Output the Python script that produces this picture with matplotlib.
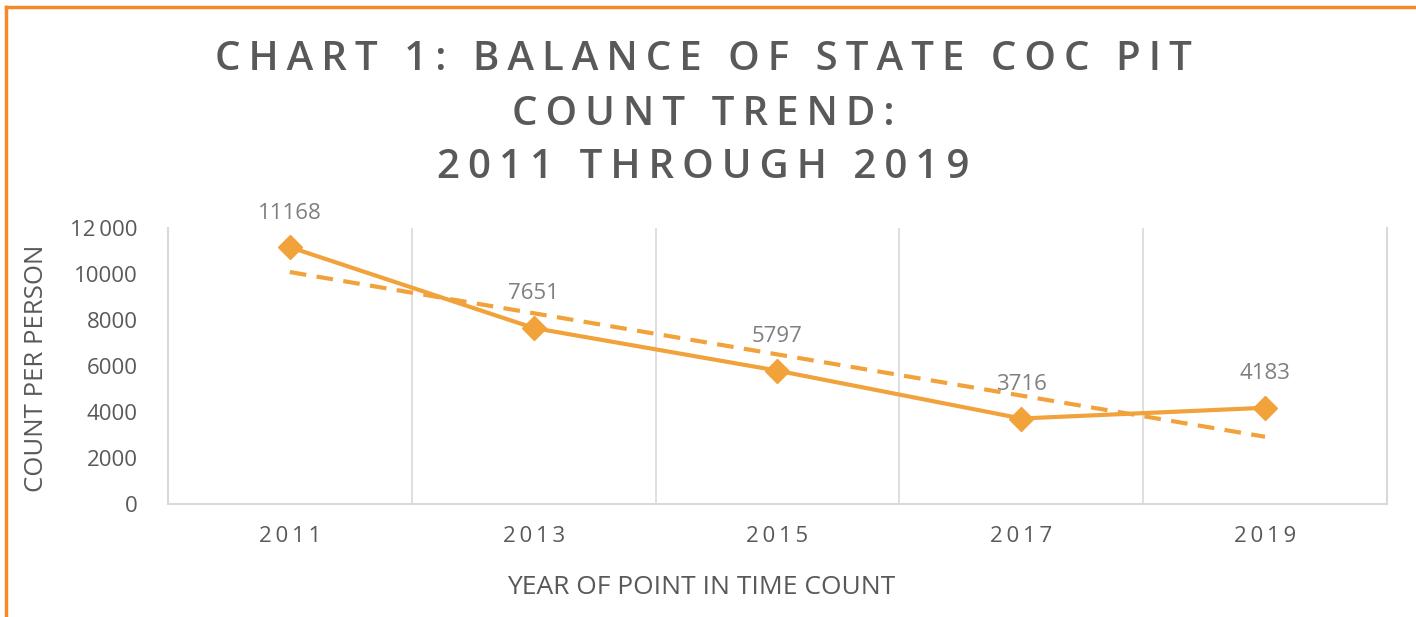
import numpy as np
import matplotlib
matplotlib.use("Agg")
import matplotlib.pyplot as plt
from matplotlib.lines import Line2D

years = ["2011", "2013", "2015", "2017", "2019"]
counts = [11168, 7651, 5797, 3716, 4183]
y_ticks = [0, 2000, 4000, 6000, 8000, 10000, 12000]
y_tick_labels = ["0", "2000", "4000", "6000", "8000", "10000", "12\u2009000"]

title_lines = ["CHART 1: BALANCE OF STATE COC PIT", "COUNT TREND:", "2011 THROUGH 2019"]

orange = "#F2A23A"
grey_txt = "#595959"
grid_col = "#D9D9D9"


def spaced(s, sep="\u2009"):
    # fake letter spacing with thin spaces
    return sep.join(s)


plt.rcParams['font.family'] = ['Open Sans', 'DejaVu Sans']

fig = plt.figure(figsize=(14.16, 6.17), dpi=100)
ax = fig.add_axes([0.1186, 0.1832, 0.8609, 0.4473])

x = np.arange(len(years))
ax.plot(x, counts, color=orange, lw=3, marker="D", markersize=12, zorder=3)

# linear trendline
k, b = np.polyfit(x, counts, 1)
ax.plot(x, k * x + b, color=orange, lw=3, ls=(0, (4, 2.5)), zorder=2)

for xi, v in zip(x, counts):
    ax.annotate(str(v), (xi, v), xytext=(0, 17), textcoords="offset points",
                ha="center", va="bottom", fontsize=16, color="#7F7F7F")

ax.set_xlim(-0.5, len(years) - 0.5)
ax.set_ylim(0, 12000)
ax.set_xticks(x)
ax.set_xticklabels([spaced(y) for y in years], fontsize=16, color=grey_txt)
ax.set_xticks(np.arange(0.5, len(years) - 0.5), minor=True)
ax.set_yticks(y_ticks)
ax.set_yticklabels(y_tick_labels, fontsize=16, color=grey_txt)
ax.tick_params(which="both", length=0)
ax.tick_params(axis="x", pad=16)
ax.tick_params(axis="y", pad=22)
ax.grid(which="minor", axis="x", color=grid_col, lw=1.2)

for side in ["left", "right", "bottom"]:
    ax.spines[side].set_color(grid_col)
    ax.spines[side].set_linewidth(1.5)
ax.spines["top"].set_visible(False)

fig.text(701 / 1416, 1 - 588 / 617, "YEAR OF POINT IN TIME COUNT", ha="center",
         va="center", fontsize=19, color=grey_txt)
fig.text(37 / 1416, 1 - 368 / 617, "COUNT PER PERSON", ha="center", va="center",
         rotation=90, fontsize=18.5, color=grey_txt)

ys = [0.902, 0.814, 0.728]
for t, yy in zip(title_lines, ys):
    fig.text(703 / 1416, yy, spaced(t), ha="center", va="center", fontsize=29,
             fontweight="semibold", color=grey_txt)

# orange frame on top and left
fig.add_artist(Line2D([6 / 1416, 1], [1 - 7 / 617, 1 - 7 / 617], color="#F7892B", lw=2.5))
fig.add_artist(Line2D([6 / 1416, 6 / 1416], [0, 1 - 7 / 617], color="#F7892B", lw=2.5))

fig.savefig("out.png", dpi=100)
